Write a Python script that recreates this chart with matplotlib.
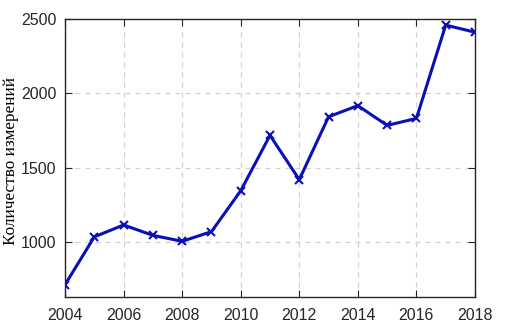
import matplotlib
matplotlib.use("Agg")
import matplotlib.pyplot as plt

years = [2004, 2005, 2006, 2007, 2008, 2009, 2010, 2011, 2012, 2013, 2014, 2015, 2016, 2017, 2018]
counts = [713, 1035, 1115, 1045, 1005, 1070, 1345, 1718, 1420, 1843, 1918, 1785, 1832, 2460, 2412]
xticks = [2004, 2006, 2008, 2010, 2012, 2014, 2016, 2018]
yticks = [1000, 1500, 2000, 2500]

fig = plt.figure(figsize=(5.08, 3.36), dpi=100)
ax = fig.add_axes([0.128, 0.116, 0.807, 0.827])
ax.plot(years, counts, color='#0a0fb8', lw=2.2, marker='x', ms=6, mew=1.5)
ax.set_xlim(2004, 2018)
ax.set_ylim(630, 2500)
ax.set_xticks(xticks)
ax.set_yticks(yticks)
ax.grid(True, ls=(0, (4, 4)), color='#d0d0d0', lw=0.9)
ax.tick_params(direction='in', top=True, right=True, length=5, width=0.8,
               labelsize=11.5, colors='#262626')
ax.tick_params(axis='x', pad=8)
ax.tick_params(axis='y', pad=6)
for lab in ax.get_xticklabels() + ax.get_yticklabels():
    lab.set_family('Liberation Sans')
for s in ax.spines.values():
    s.set_color('#262626')
    s.set_linewidth(1.0)
ax.set_ylabel('Количество измерений', family='Liberation Serif', fontsize=12.4)
ax.yaxis.set_label_coords(-0.113, 0.489)
fig.savefig('out.png', dpi=100)
